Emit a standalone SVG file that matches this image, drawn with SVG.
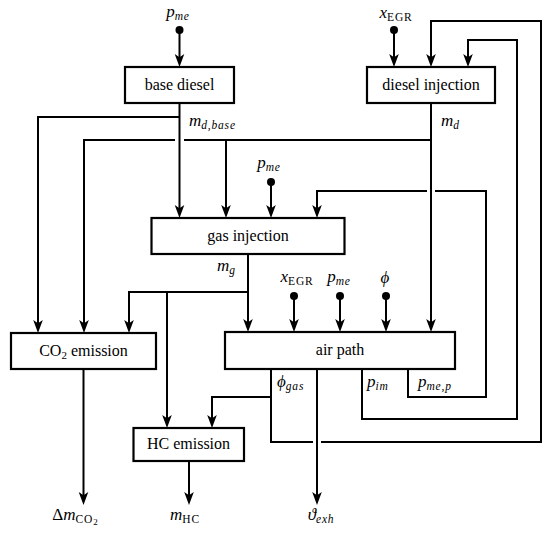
<svg xmlns="http://www.w3.org/2000/svg" width="550" height="536" viewBox="0 0 550 536">
<defs>
<style>
.box{fill:#fff;stroke:#000;stroke-width:2.2}
.bt{font-family:'Liberation Serif','Times New Roman','DejaVu Serif',serif;font-size:16px;fill:#000;text-anchor:middle}
.m{font-family:'Liberation Serif','Times New Roman','DejaVu Serif',serif;font-size:17px;font-style:italic;fill:#000}
.s{font-size:11.5px;letter-spacing:0.8px}
.u{font-style:normal}
.c{fill:none;stroke:#000;stroke-width:2;stroke-linejoin:miter}
.a{marker-end:url(#arr)}
.dot{fill:#000}
</style>
<marker id="arr" markerUnits="userSpaceOnUse" orient="auto" refX="0" refY="0" markerWidth="20" markerHeight="20" viewBox="-10 -10 20 20" overflow="visible">
<path d="M5,0 L-8,-4.8 L-4.8,0 L-8,4.8 Z" fill="#000"/>
</marker>
</defs>

<g id="connectors">
<circle class="dot" cx="179.5" cy="30" r="4"/>
<path class="c a" d="M179.5,30 V62"/>
<circle class="dot" cx="394" cy="30" r="4"/>
<path class="c a" d="M394,30 V62"/>
<circle class="dot" cx="271" cy="182" r="4"/>
<path class="c a" d="M271,182 V213"/>
<circle class="dot" cx="294" cy="296" r="4"/>
<path class="c a" d="M294,296 V327"/>
<circle class="dot" cx="340" cy="296" r="4"/>
<path class="c a" d="M340,296 V327"/>
<circle class="dot" cx="386" cy="296" r="4"/>
<path class="c a" d="M386,296 V327"/>

<path class="c a" d="M179.5,103 V213"/>
<path class="c a" d="M179.5,117 H38 V328"/>

<path class="c a" d="M431,103 V327"/>
<path class="c" d="M431,140 H184"/>
<path class="c a" d="M175,140 H84 V328"/>
<path class="c a" d="M226,140 V213"/>

<path class="c a" d="M248,254 V327"/>
<path class="c a" d="M248,292 H129 V328"/>
<path class="c a" d="M167,292 V423"/>

<path class="c" d="M408,369 V397 H486 V191 H435"/>
<path class="c a" d="M427,191 H317 V213"/>

<path class="c a" d="M362,369 V419 H517 V40 H468 V62"/>

<path class="c" d="M271,369 V442 H313"/>
<path class="c a" d="M321,442 H541 V21 H431 V62"/>
<path class="c a" d="M271,397 H212 V423"/>

<path class="c a" d="M83.5,369 V500"/>
<path class="c a" d="M189,461 V500"/>
<path class="c a" d="M317,369 V500"/>
</g>

<g id="base-diesel">
<rect class="box" x="125" y="67" width="109" height="36"/>
<text class="bt" x="179.5" y="90">base diesel</text>
</g>
<g id="diesel-injection">
<rect class="box" x="367" y="67" width="128" height="36"/>
<text class="bt" x="431" y="90">diesel injection</text>
</g>
<g id="gas-injection">
<rect class="box" x="151.5" y="218" width="193" height="36"/>
<text class="bt" x="248" y="241">gas injection</text>
</g>
<g id="co2-emission">
<rect class="box" x="11" y="333" width="145" height="36"/>
<text class="bt" x="83.5" y="356">CO<tspan font-size="11" dy="3">2</tspan><tspan dy="-3"> emission</tspan></text>
</g>
<g id="air-path">
<rect class="box" x="225" y="332" width="230" height="37"/>
<text class="bt" x="340" y="355">air path</text>
</g>
<g id="hc-emission">
<rect class="box" x="133.5" y="428" width="110.5" height="33"/>
<text class="bt" x="188.5" y="449">HC emission</text>
</g>

<g id="labels">
<text class="m" x="178" y="17" text-anchor="middle">p<tspan class="s" dy="3">me</tspan></text>
<text class="m" x="396" y="18" text-anchor="middle">x<tspan class="s u" dy="3">EGR</tspan></text>
<text class="m" x="189" y="126">m<tspan class="s" dy="3">d,base</tspan></text>
<text class="m" x="441" y="126">m<tspan class="s" dy="3">d</tspan></text>
<text class="m" x="269" y="168" text-anchor="middle">p<tspan class="s" dy="3">me</tspan></text>
<text class="m" x="217" y="271">m<tspan class="s" dy="3">g</tspan></text>
<text class="m" x="297" y="282" text-anchor="middle">x<tspan class="s u" dy="3">EGR</tspan></text>
<text class="m" x="339" y="282" text-anchor="middle">p<tspan class="s" dy="3">me</tspan></text>
<text class="m" x="385" y="283" text-anchor="middle">ϕ</text>
<text class="m" x="277" y="387">ϕ<tspan class="s" dy="3">gas</tspan></text>
<text class="m" x="367" y="387">p<tspan class="s" dy="3">im</tspan></text>
<text class="m" x="418" y="387">p<tspan class="s" dy="3">me,p</tspan></text>
<text class="m" x="75" y="520" text-anchor="middle"><tspan class="u">Δ</tspan>m<tspan class="s u" dy="3">CO</tspan><tspan class="u" font-size="9" dy="2">2</tspan></text>
<text class="m" x="185" y="520" text-anchor="middle">m<tspan class="s u" dy="3">HC</tspan></text>
<text class="m" x="321" y="520" text-anchor="middle">ϑ<tspan class="s" dy="3">exh</tspan></text>
</g>
</svg>
